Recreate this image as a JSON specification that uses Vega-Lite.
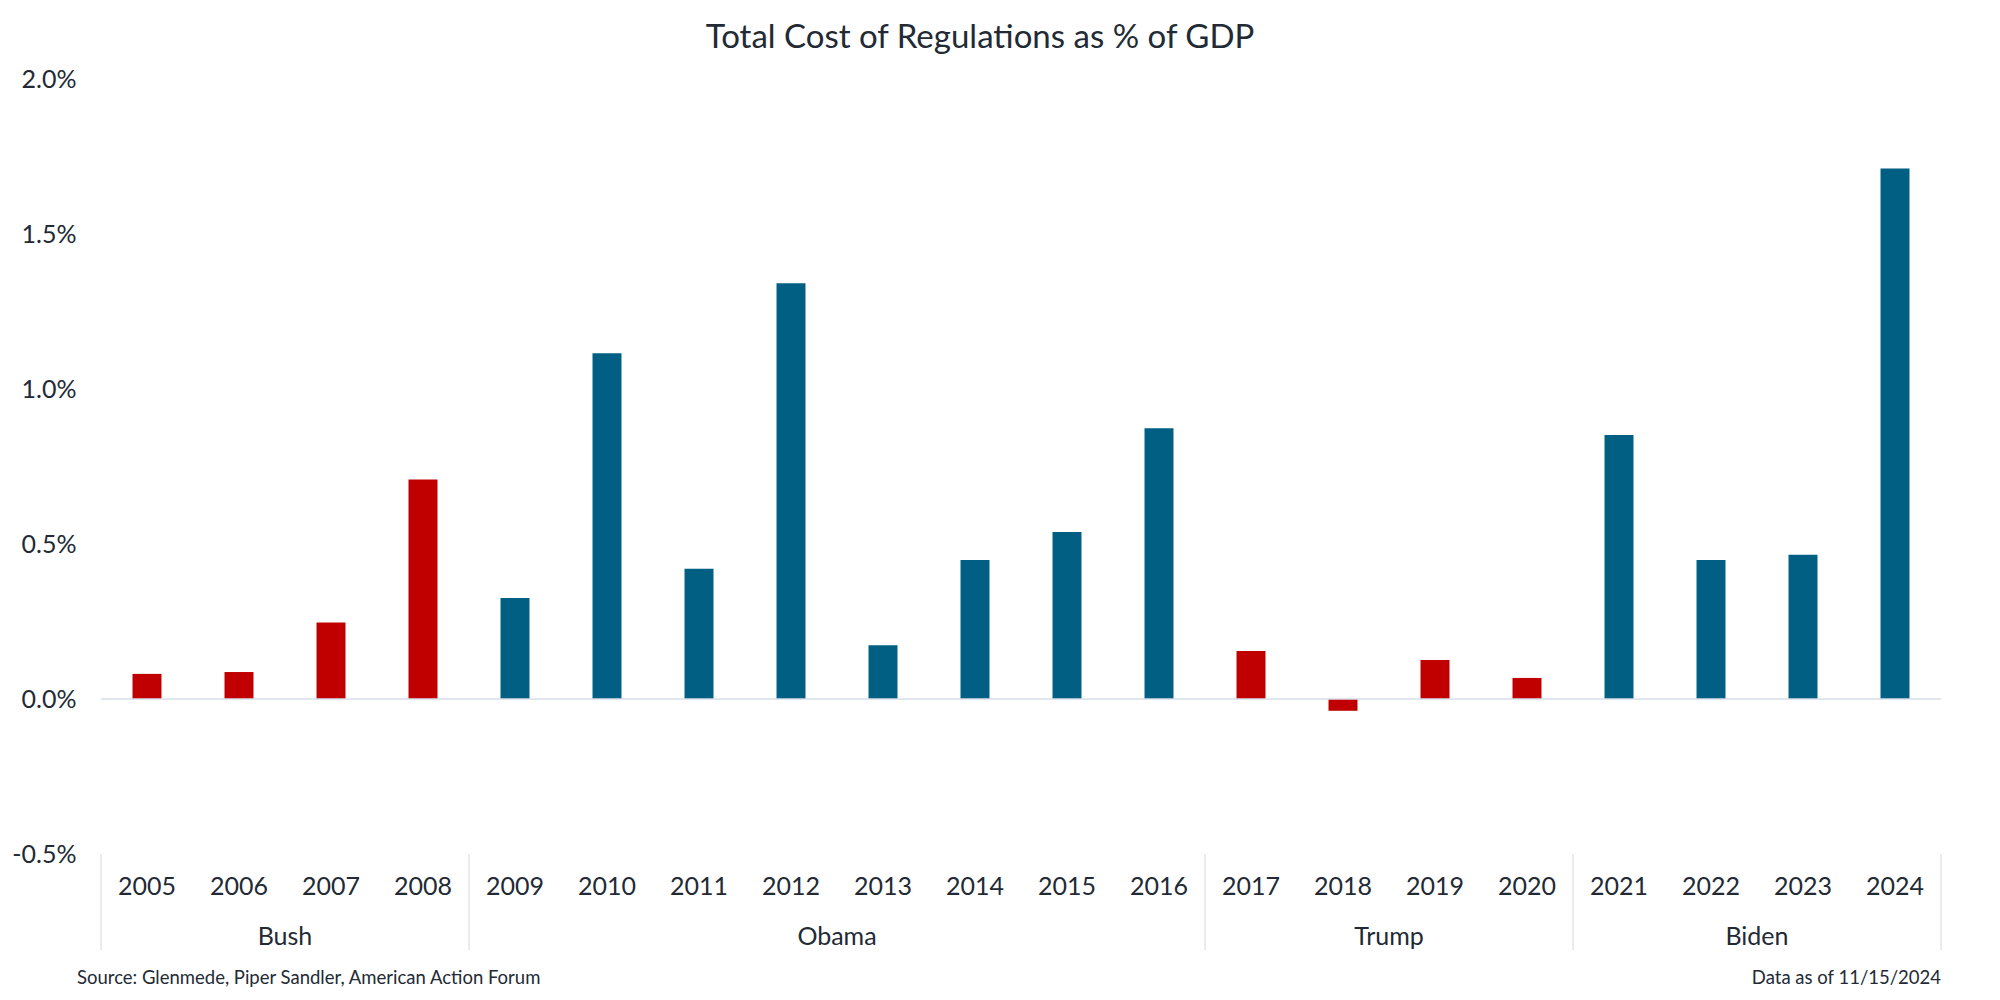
{
  "$schema": "https://vega.github.io/schema/vega-lite/v6.json",
  "width": 1840,
  "height": 775,
  "autosize": "none",
  "padding": {"left": 101, "top": 79, "right": 59, "bottom": 146},
  "background": "white",
  "config": {"font": "Lato", "view": {"stroke": null}},
  "title": {
    "text": "Total Cost of Regulations as % of GDP",
    "fontSize": 33,
    "font": "Lato",
    "fontWeight": "normal",
    "color": "#222a35",
    "anchor": "middle",
    "dx": -41,
    "offset": 12
  },
  "datasets": {
    "bars": [
      {"year": "2005", "value": 0.081, "party": "R"},
      {"year": "2006", "value": 0.087, "party": "R"},
      {"year": "2007", "value": 0.247, "party": "R"},
      {"year": "2008", "value": 0.708, "party": "R"},
      {"year": "2009", "value": 0.326, "party": "D"},
      {"year": "2010", "value": 1.115, "party": "D"},
      {"year": "2011", "value": 0.42, "party": "D"},
      {"year": "2012", "value": 1.341, "party": "D"},
      {"year": "2013", "value": 0.173, "party": "D"},
      {"year": "2014", "value": 0.448, "party": "D"},
      {"year": "2015", "value": 0.539, "party": "D"},
      {"year": "2016", "value": 0.873, "party": "D"},
      {"year": "2017", "value": 0.155, "party": "R"},
      {"year": "2018", "value": -0.038, "party": "R"},
      {"year": "2019", "value": 0.126, "party": "R"},
      {"year": "2020", "value": 0.068, "party": "R"},
      {"year": "2021", "value": 0.852, "party": "D"},
      {"year": "2022", "value": 0.448, "party": "D"},
      {"year": "2023", "value": 0.465, "party": "D"},
      {"year": "2024", "value": 1.711, "party": "D"}
    ],
    "groups": [
      {"president": "Bush", "mid": 2},
      {"president": "Obama", "mid": 8},
      {"president": "Trump", "mid": 14},
      {"president": "Biden", "mid": 18}
    ],
    "dividers": [
      {"pos": 0}, {"pos": 4}, {"pos": 12}, {"pos": 16}, {"pos": 20}
    ],
    "notes": [
      {"note": "Source: Glenmede, Piper Sandler, American Action Forum", "pos": 0, "side": "left"},
      {"note": "Data as of 11/15/2024", "pos": 20, "side": "right"}
    ]
  },
  "resolve": {"scale": {"x": "independent"}},
  "layer": [
    {
      "data": {"name": "bars"},
      "mark": {"type": "bar"},
      "encoding": {
        "x": {
          "field": "year",
          "type": "ordinal",
          "sort": null,
          "scale": {"paddingInner": 0.685, "paddingOuter": 0.3425},
          "axis": {
            "title": null,
            "domain": false,
            "ticks": false,
            "labelAngle": 0,
            "labelFontSize": 25,
            "labelPadding": 20,
            "labelColor": "#222a35",
            "labelFont": "Lato"
          }
        },
        "y": {
          "field": "value",
          "type": "quantitative",
          "scale": {"domain": [-0.5, 2], "nice": false, "zero": false},
          "axis": {
            "title": null,
            "values": [-0.5, 0, 0.5, 1, 1.5, 2],
            "labelExpr": "(datum.value < 0 ? '-' : '') + format(abs(datum.value), '.1f') + '%'",
            "grid": false,
            "domain": false,
            "ticks": false,
            "labelFontSize": 25,
            "labelPadding": 25,
            "labelColor": "#222a35",
            "labelFont": "Lato"
          }
        },
        "color": {
          "field": "party",
          "type": "nominal",
          "scale": {"domain": ["R", "D"], "range": ["#c00000", "#005f83"]},
          "legend": null
        }
      }
    },
    {
      "data": {"values": [{"v": 0}]},
      "mark": {"type": "rule", "color": "#d9dfe8", "strokeWidth": 1.5},
      "encoding": {"y": {"field": "v", "type": "quantitative"}}
    },
    {
      "data": {"name": "dividers"},
      "mark": {"type": "rule", "color": "#d9dfe8", "strokeWidth": 1.2, "clip": false},
      "encoding": {
        "x": {"field": "pos", "type": "quantitative", "scale": {"domain": [0, 20], "nice": false}, "axis": null},
        "y": {"datum": -0.5},
        "y2": {"datum": -0.81}
      }
    },
    {
      "data": {"name": "groups"},
      "mark": {"type": "text", "fontSize": 25, "font": "Lato", "color": "#222a35", "baseline": "middle", "align": "center", "dy": 83},
      "encoding": {
        "x": {"field": "mid", "type": "quantitative", "scale": {"domain": [0, 20], "nice": false}, "axis": null},
        "y": {"datum": -0.5},
        "text": {"field": "president"}
      }
    },
    {
      "data": {"name": "notes"},
      "transform": [{"filter": "datum.side == 'left'"}],
      "mark": {"type": "text", "fontSize": 18.5, "font": "Lato", "color": "#222a35", "baseline": "middle", "align": "left", "dy": 124, "dx": -24},
      "encoding": {
        "x": {"field": "pos", "type": "quantitative", "scale": {"domain": [0, 20], "nice": false}, "axis": null},
        "y": {"datum": -0.5},
        "text": {"field": "note"}
      }
    },
    {
      "data": {"name": "notes"},
      "transform": [{"filter": "datum.side == 'right'"}],
      "mark": {"type": "text", "fontSize": 18.5, "font": "Lato", "color": "#222a35", "baseline": "middle", "align": "right", "dy": 124},
      "encoding": {
        "x": {"field": "pos", "type": "quantitative", "scale": {"domain": [0, 20], "nice": false}, "axis": null},
        "y": {"datum": -0.5},
        "text": {"field": "note"}
      }
    }
  ]
}
